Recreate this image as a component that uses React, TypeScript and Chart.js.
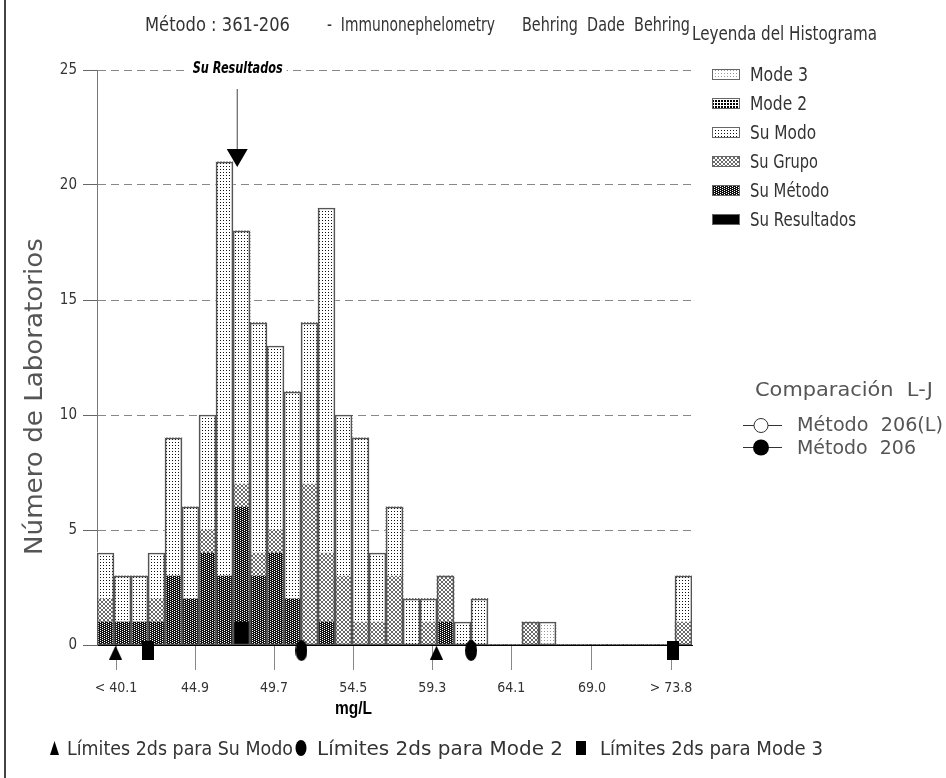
import React, { useEffect, useRef } from "react";
import { Chart, registerables } from "chart.js";

Chart.register(...registerables);

// ---------- DATA ----------
const bins = ["1","2","3","4","5","6","7","8","9","10","11","12","13","14","15","16","17","18","19","20","21","22","23","24","25","26","27","28","29","30","31","32","33","34","35"];

const suResultados = [0,0,0,0,0,0,0,0,1,0,0,0,0,0,0,0,0,0,0,0,0,0,0,0,0,0,0,0,0,0,0,0,0,0,0];
const suMetodo     = [1,1,1,1,3,2,4,3,5,3,4,2,0,1,0,0,0,0,0,0,1,0,0,0,0,0,0,0,0,0,0,0,0,0,0];
const suGrupo      = [1,0,0,1,0,0,1,0,1,1,1,0,7,3,3,1,1,3,0,1,2,0,0,0,0,1,0,0,0,0,0,0,0,0,1];
const suModo       = [2,2,2,2,6,4,5,18,11,10,8,9,7,15,7,8,3,3,2,1,0,1,2,0,0,0,0,0,0,0,0,0,0,0,2];
const mode2        = [0,0,0,0,0,0,0,0,0,0,0,0,0,0,0,0,0,0,0,0,0,0,0,0,0,0,0,0,0,0,0,0,0,0,0];
const mode3        = [0,0,0,0,0,0,0,0,0,0,0,0,0,0,0,0,0,0,0,0,0,0,0,0,0,0,1,0,0,0,0,0,0,0,0];

const xTickValues = [40.1, 44.9, 49.7, 54.5, 59.3, 64.1, 69.0, 73.8];
const xTickLabels = ["< 40.1", "44.9", "49.7", "54.5", "59.3", "64.1", "69.0", "> 73.8"];
const xRange = [38.946, 75.075];

const suModoLimits = [40.07, 59.56];
const mode2Limits = [51.36, 61.66];
const mode3Limits = [42.07, 73.95];
const resultValue = 47.43;

const legendNames = ["Mode 3", "Mode 2", "Su Modo", "Su Grupo", "Su Método", "Su Resultados"];
const titleParts = ["Método : 361-206", "-  Immunonephelometry", "Behring  Dade  Behring"];
const legendTitle = "Leyenda del Histograma";
const yTitle = "Número de Laboratorios";
const xTitle = "mg/L";
const ljTitle = "Comparación  L-J";
const ljNames = ["Método  206(L)", "Método  206"];
const bottomNames = ["Límites 2ds para Su Modo", "Límites 2ds para Mode 2", "Límites 2ds para Mode 3"];

// ---------- STYLE HELPERS ----------
const FN = '"Liberation Sans Narrow", "DejaVu Sans Condensed", "Liberation Sans", sans-serif';
const TXT = "#333";

function makePattern(w: number, h: number, bg: string, fg: string, px: number[][]) {
  const c = document.createElement("canvas");
  c.width = w; c.height = h;
  const g = c.getContext("2d")!;
  g.fillStyle = bg; g.fillRect(0, 0, w, h);
  g.fillStyle = fg;
  px.forEach(([x, y]) => g.fillRect(x, y, 1, 1));
  return g.createPattern(c, "repeat")!;
}

function markerCanvas(kind: string) {
  const c = document.createElement("canvas");
  if (kind === "tri") {
    c.width = 13; c.height = 14;
    const x = c.getContext("2d")!; x.fillStyle = "#000"; x.beginPath(); x.moveTo(6.5, 0); x.lineTo(13, 14); x.lineTo(0, 14); x.closePath(); x.fill();
  } else if (kind === "ell") {
    c.width = 12; c.height = 21;
    const x = c.getContext("2d")!; x.fillStyle = "#000"; x.beginPath(); x.ellipse(6, 10.5, 6, 10.5, 0, 0, Math.PI * 2); x.fill();
  } else {
    c.width = 12; c.height = 19;
    const x = c.getContext("2d")!; x.fillStyle = "#000"; x.fillRect(0, 0, 12, 19);
  }
  return c;
}

function fitText(ctx: CanvasRenderingContext2D, text: string, x: number, y: number, font: string, width: number, color: string, rot = 0) {
  ctx.save();
  ctx.font = font;
  ctx.fillStyle = color;
  ctx.textAlign = "left";
  ctx.textBaseline = "alphabetic";
  const w = ctx.measureText(text).width;
  ctx.translate(x, y);
  if (rot) ctx.rotate(rot);
  ctx.scale(width / w, 1);
  ctx.fillText(text, 0, 0);
  ctx.restore();
}

export default function App() {
  const ref = useRef<HTMLCanvasElement | null>(null);

  useEffect(() => {
    const canvas = ref.current!;
    const pats = {
      mode3: makePattern(3, 3, "#fff", "#999", [[1, 1]]),
      mode2: makePattern(3, 3, "#fff", "#000", [[1, 1], [2, 1], [1, 2], [2, 2]]),
      suModo: makePattern(3, 3, "#fff", "#111", [[1, 1]]),
      suGrupo: makePattern(4, 4, "#fff", "#6a6a6a", [[0, 0], [1, 1], [2, 2], [3, 3], [3, 0], [2, 1], [1, 2], [0, 3]]),
      suMetodo: makePattern(4, 2, "#111", "#fff", [[0, 0], [2, 1]]),
      suRes: "#000",
    };
    const legendPats = [pats.mode3, pats.mode2, pats.suModo, pats.suGrupo, pats.suMetodo, pats.suRes];

    const stacks = [
      { name: "Su Resultados", values: suResultados, bg: pats.suRes },
      { name: "Su Método", values: suMetodo, bg: pats.suMetodo },
      { name: "Su Grupo", values: suGrupo, bg: pats.suGrupo },
      { name: "Su Modo", values: suModo, bg: pats.suModo },
      { name: "Mode 2", values: mode2, bg: pats.mode2 },
      { name: "Mode 3", values: mode3, bg: pats.mode3 },
    ];
    const totals = bins.map((_, i) => stacks.reduce((s, d) => s + d.values[i], 0));

    const tri = markerCanvas("tri");
    const ell = markerCanvas("ell");
    const sq = markerCanvas("sq");

    const overlay = {
      id: "overlay",
      afterDatasetsDraw(chart: any) {
        const ctx: CanvasRenderingContext2D = chart.ctx;
        const px = chart.scales.xv.getPixelForValue(resultValue);
        ctx.save();
        ctx.strokeStyle = "#444";
        ctx.lineWidth = 1;
        ctx.beginPath();
        ctx.moveTo(px + 0.5, 89);
        ctx.lineTo(px + 0.5, 150);
        ctx.stroke();
        ctx.fillStyle = "#000";
        ctx.beginPath();
        ctx.moveTo(px - 10, 149);
        ctx.lineTo(px + 11, 149);
        ctx.lineTo(px + 0.5, 167);
        ctx.closePath();
        ctx.fill();
        ctx.fillStyle = "#fff";
        ctx.fillRect(px - 48, 60, 98, 16);
        ctx.restore();
        fitText(ctx, "Su Resultados", px - 44, 73, `italic bold 15px ${FN}`, 90, "#000");
      },
      afterDraw(chart: any) {
        const ctx: CanvasRenderingContext2D = chart.ctx;
        ctx.save();
        ctx.strokeStyle = "#444";
        ctx.lineWidth = 2;
        ctx.beginPath();
        ctx.moveTo(5, 0);
        ctx.lineTo(5, 778);
        ctx.stroke();
        ctx.restore();

        fitText(ctx, titleParts[0], 145, 31, `20px ${FN}`, 145, TXT);
        fitText(ctx, titleParts[1], 327, 31, `20px ${FN}`, 168, TXT);
        fitText(ctx, titleParts[2], 522, 31, `20px ${FN}`, 168, TXT);
        fitText(ctx, legendTitle, 692, 40, `20px ${FN}`, 185, TXT);

        const widths = [58, 57, 66, 68, 79, 106];
        legendNames.forEach((n, i) => {
          const cy = 74 + 29 * i;
          ctx.save();
          ctx.fillStyle = legendPats[i] as any;
          ctx.fillRect(712, cy - 5, 28, 11);
          ctx.strokeStyle = "#666";
          ctx.lineWidth = 1;
          ctx.strokeRect(712.5, cy - 4.5, 27, 10);
          ctx.restore();
          fitText(ctx, n, 750, cy + 7, `19px ${FN}`, widths[i], TXT);
        });

        fitText(ctx, yTitle, 42, 555, `24px ${FN}`, 317, "#555", -Math.PI / 2);
        fitText(ctx, xTitle, 335, 714, `bold 19px "Liberation Sans", Arial, sans-serif`, 37, "#000");

        const FS = '"DejaVu Sans", "Liberation Sans", sans-serif';
        fitText(ctx, ljTitle, 755, 396, `19px ${FS}`, 178, "#555");
        fitText(ctx, ljNames[0], 797, 431, `19px ${FS}`, 146, "#555");
        fitText(ctx, ljNames[1], 797, 454, `19px ${FS}`, 119, "#555");
        ctx.save();
        ctx.strokeStyle = "#333";
        ctx.lineWidth = 1;
        ctx.beginPath();
        ctx.moveTo(743, 425.5); ctx.lineTo(782, 425.5);
        ctx.moveTo(743, 447.5); ctx.lineTo(782, 447.5);
        ctx.stroke();
        ctx.fillStyle = "#fff";
        ctx.beginPath(); ctx.arc(761, 425.5, 7, 0, Math.PI * 2); ctx.fill(); ctx.stroke();
        ctx.fillStyle = "#000";
        ctx.beginPath(); ctx.arc(761, 447.5, 8, 0, Math.PI * 2); ctx.fill();
        ctx.restore();

        ctx.save();
        ctx.fillStyle = "#000";
        ctx.beginPath(); ctx.moveTo(54.5, 741); ctx.lineTo(59, 755); ctx.lineTo(50, 755); ctx.closePath(); ctx.fill();
        ctx.beginPath(); ctx.ellipse(301, 748, 5.5, 8, 0, 0, Math.PI * 2); ctx.fill();
        ctx.fillRect(576, 741, 10, 14);
        ctx.restore();
        fitText(ctx, bottomNames[0], 67, 755, `19px ${FN}`, 226, TXT);
        fitText(ctx, bottomNames[1], 317, 755, `19px ${FN}`, 246, TXT);
        fitText(ctx, bottomNames[2], 600, 755, `19px ${FN}`, 223, TXT);
      },
    };

    const barCommon = { barPercentage: 1, categoryPercentage: 1, grouped: false };
    const markerCommon = {
      type: "scatter" as const,
      pointRadius: 14,
      pointHoverRadius: 14,
      xAxisID: "xv",
      yAxisID: "y2",
      clip: false as any,
      order: 0,
    };

    const chart = new Chart(canvas, {
      type: "bar",
      data: {
        labels: bins,
        datasets: [
          ...stacks.map((s) => ({
            type: "bar" as const,
            label: s.name,
            data: s.values,
            backgroundColor: s.bg as any,
            borderWidth: 0,
            xAxisID: "x",
            yAxisID: "y",
            stack: "hist",
            order: 2,
            ...barCommon,
          })),
          {
            type: "bar" as const,
            label: "outline",
            data: totals,
            backgroundColor: "rgba(0,0,0,0)",
            borderColor: "#555",
            borderWidth: 1,
            borderSkipped: false,
            xAxisID: "xo",
            yAxisID: "y2",
            order: 1,
            ...barCommon,
          },
          {
            ...markerCommon,
            label: "Límites Su Modo",
            data: suModoLimits.map((v) => ({ x: v, y: -0.33 })),
            pointStyle: tri as any,
          },
          {
            ...markerCommon,
            label: "Límites Mode 2",
            data: mode2Limits.map((v) => ({ x: v, y: -0.24 })),
            pointStyle: ell as any,
          },
          {
            ...markerCommon,
            label: "Límites Mode 3",
            data: mode3Limits.map((v) => ({ x: v, y: -0.23 })),
            pointStyle: sq as any,
          },
        ] as any,
      },
      options: {
        responsive: false,
        animation: false,
        devicePixelRatio: 1,
        layout: { padding: { left: 0, top: 70, right: 254, bottom: 0 } },
        plugins: {
          legend: { display: false },
          tooltip: { enabled: false },
          title: { display: false },
        },
        scales: {
          x: { type: "category", display: false, stacked: true, offset: true },
          xo: { type: "category", display: false, offset: true },
          xv: {
            type: "linear",
            position: "bottom",
            min: xRange[0],
            max: xRange[1],
            offset: false,
            afterBuildTicks: (s: any) => {
              s.ticks = xTickValues.map((v) => ({ value: v }));
            },
            afterFit: (s: any) => {
              s.height = 133;
            },
            ticks: {
              autoSkip: false,
              maxRotation: 0,
              padding: 10,
              color: TXT,
              font: { family: FN, size: 14 },
              callback: (_v: any, i: number) => xTickLabels[i],
            },
            grid: { drawOnChartArea: false, offset: false, tickLength: 25, tickColor: "#888", tickWidth: 1 },
            border: { color: "#000", width: 1 },
          },
          y: {
            type: "linear",
            stacked: true,
            min: 0,
            max: 25,
            afterFit: (s: any) => {
              s.width = 97;
            },
            ticks: {
              stepSize: 5,
              padding: 6,
              color: TXT,
              font: { family: FN, size: 15 },
            },
            grid: { color: "#888", lineWidth: 1, tickLength: 14, tickColor: "#666", tickBorderDash: [] },
            border: { color: "#777", width: 1, dash: [8, 5] },
          },
          y2: { type: "linear", display: false, min: 0, max: 25 },
        } as any,
      },
      plugins: [overlay],
    });

    return () => chart.destroy();
  }, []);

  return (
    <div style={{ position: "absolute", left: 0, top: 0, width: 946, height: 778, background: "#fff" }}>
      <canvas ref={ref} width={946} height={778} style={{ width: 946, height: 778, display: "block" }} />
    </div>
  );
}
